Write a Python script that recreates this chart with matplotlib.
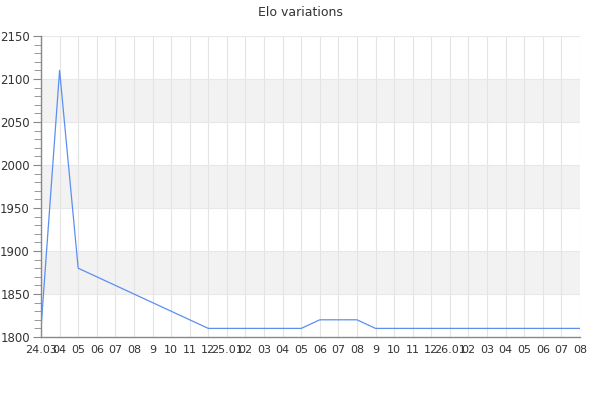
import matplotlib
matplotlib.use("Agg")
import matplotlib.pyplot as plt
from matplotlib.ticker import MultipleLocator

months = ["24.03", "04", "05", "06", "07", "08", "9", "10", "11", "12",
          "25.01", "02", "03", "04", "05", "06", "07", "08", "9", "10", "11", "12",
          "26.01", "02", "03", "04", "05", "06", "07", "08"]
elo = [1810, 2110, 1880, 1870, 1860, 1850, 1840, 1830, 1820, 1810,
       1810, 1810, 1810, 1810, 1810, 1820, 1820, 1820, 1810, 1810, 1810, 1810,
       1810, 1810, 1810, 1810, 1810, 1810, 1810, 1810]
bands = [(1850, 1900), (1950, 2000), (2050, 2100)]

fig = plt.figure(figsize=(6, 4), dpi=100)
ax = fig.add_axes([41/600, 1 - 337/400, (580-41)/600, (337-36)/400])

x = list(range(len(months)))
for lo, hi in bands:
    ax.axhspan(lo, hi, color="#f2f2f2", zorder=0, lw=0)
for xi in x:
    ax.axvline(xi, color="#e4e4e4", lw=0.8, zorder=1)
for yv in range(1850, 2151, 50):
    ax.axhline(yv, color="#e8e8e8", lw=0.8, zorder=1)

ax.plot(x, elo, color="#5b8ff0", lw=0.9, zorder=3)

ax.set_xlim(0, len(months) - 1)
ax.set_ylim(1800, 2150)
ax.set_xticks(x)
ax.set_xticklabels(months)
ax.yaxis.set_major_locator(MultipleLocator(50))
ax.yaxis.set_minor_locator(MultipleLocator(10))
ax.tick_params(axis="x", length=0, labelsize=8, labelcolor="#333333", pad=6)
ax.tick_params(axis="y", which="major", length=6, color="#888888", labelsize=8.5, labelcolor="#333333", pad=2)
ax.tick_params(axis="y", which="minor", length=5, color="#888888")
for s in ["top", "right"]:
    ax.spines[s].set_visible(False)
for s in ["left", "bottom"]:
    ax.spines[s].set_color("#888888")
    ax.spines[s].set_linewidth(1)

fig.text(0.5, 1 - 12/400, "Elo variations", ha="center", va="center", fontsize=9, color="#333333")
fig.savefig("out.png", dpi=100)
